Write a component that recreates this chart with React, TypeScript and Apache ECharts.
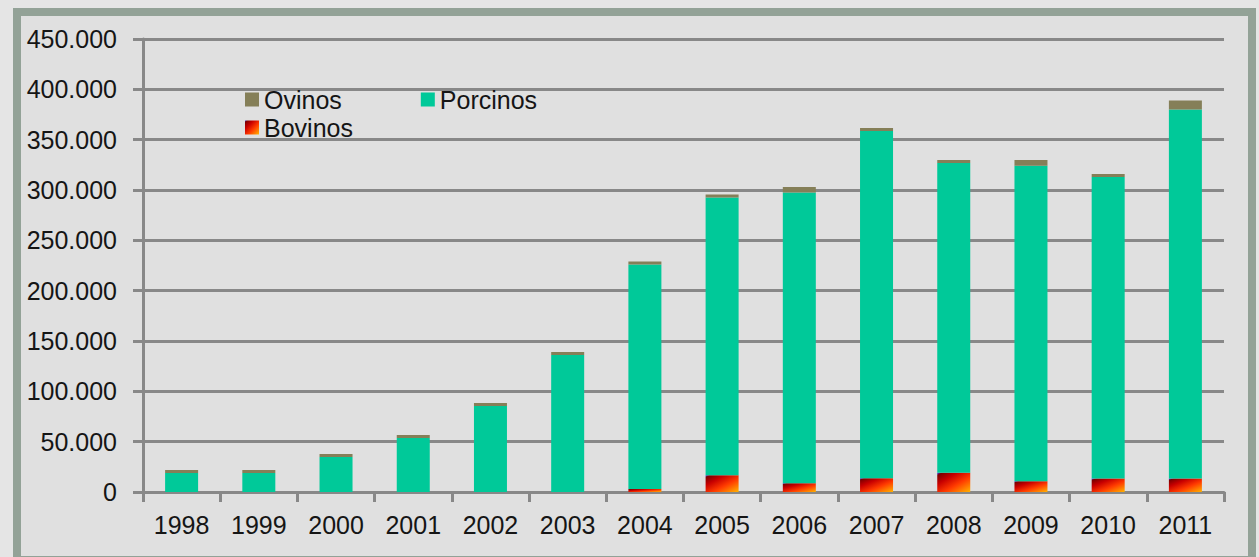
import React, { useEffect, useRef } from "react";
import * as echarts from "echarts";

const years = ["1998", "1999", "2000", "2001", "2002", "2003", "2004", "2005", "2006", "2007", "2008", "2009", "2010", "2011"];
const bovinos = [0, 0, 0, 0, 0, 0, 3000, 16700, 8700, 13700, 19000, 10700, 13300, 13300];
const porcinos = [18900, 18900, 34800, 53600, 85400, 136000, 223000, 275800, 288800, 344900, 307800, 313300, 299700, 366700];
const ovinos = [3000, 3000, 2900, 3000, 3000, 3000, 3000, 3000, 5500, 3000, 3000, 5800, 2900, 9000];
const yTicks = { min: 0, max: 450000, interval: 50000 };

const FONT = "'Liberation Sans', Arial, sans-serif";

export default function App() {
  const ref = useRef<HTMLDivElement>(null);
  useEffect(() => {
    if (!ref.current) return;
    const chart = echarts.init(ref.current, null, { renderer: "svg" });
    const bovGrad = new echarts.graphic.LinearGradient(0, 0, 1, 1, [
      { offset: 0, color: "#3a3aff" },
      { offset: 0.07, color: "#7a0000" },
      { offset: 0.3, color: "#c80000" },
      { offset: 0.6, color: "#ff3a00" },
      { offset: 1, color: "#ffb400" },
    ]);
    const legendText = { fontSize: 25, color: "#151515", fontFamily: FONT };
    chart.setOption({
      animation: false,
      backgroundColor: "transparent",
      textStyle: { fontFamily: FONT },
      grid: { left: 130, right: 35, top: 39, bottom: 65, containLabel: false },
      legend: [
        {
          data: ["Ovinos", "Porcinos"],
          left: 227,
          top: 82,
          icon: "rect",
          itemWidth: 14,
          itemHeight: 14,
          itemGap: 79,
          textStyle: legendText,
        },
        {
          data: ["Bovinos"],
          left: 227,
          top: 110,
          icon: "rect",
          itemWidth: 14,
          itemHeight: 14,
          textStyle: legendText,
        },
      ],
      xAxis: {
        type: "category",
        data: years,
        axisLine: { lineStyle: { color: "#888", width: 3 } },
        axisTick: { show: true, length: 10, lineStyle: { color: "#888", width: 3 } },
        axisLabel: { color: "#151515", fontSize: 25, margin: 20, fontFamily: FONT },
      },
      yAxis: {
        type: "value",
        min: yTicks.min,
        max: yTicks.max,
        interval: yTicks.interval,
        axisLine: { show: true, lineStyle: { color: "#888", width: 3 } },
        axisTick: { show: true, length: 10, lineStyle: { color: "#888", width: 3 } },
        splitLine: { lineStyle: { color: "#888", width: 3 } },
        axisLabel: {
          color: "#151515",
          fontSize: 25,
          margin: 26,
          fontFamily: FONT,
          formatter: (v: number) => (v === 0 ? "0" : `${v / 1000}.000`),
        },
      },
      series: [
        {
          name: "Bovinos",
          type: "bar",
          stack: "t",
          barWidth: 33,
          data: bovinos,
          itemStyle: { color: bovGrad },
        },
        {
          name: "Porcinos",
          type: "bar",
          stack: "t",
          barWidth: 33,
          data: porcinos,
          itemStyle: { color: "#00c999" },
        },
        {
          name: "Ovinos",
          type: "bar",
          stack: "t",
          barWidth: 33,
          data: ovinos,
          itemStyle: { color: "#857f58" },
        },
      ],
    });
    return () => chart.dispose();
  }, []);
  return (
    <div style={{ position: "fixed", left: 0, top: 0, width: 1259, height: 557, background: "#e5e5e5", overflow: "hidden" }}>
      <div
        style={{
          position: "absolute",
          left: 13,
          top: 8,
          width: 1243,
          height: 556,
          boxSizing: "border-box",
          border: "8px solid #93a297",
          background: "#e0e0e0",
        }}
      />
      <div ref={ref} style={{ position: "absolute", left: 13, top: 0, width: 1246, height: 557 }} />
    </div>
  );
}
